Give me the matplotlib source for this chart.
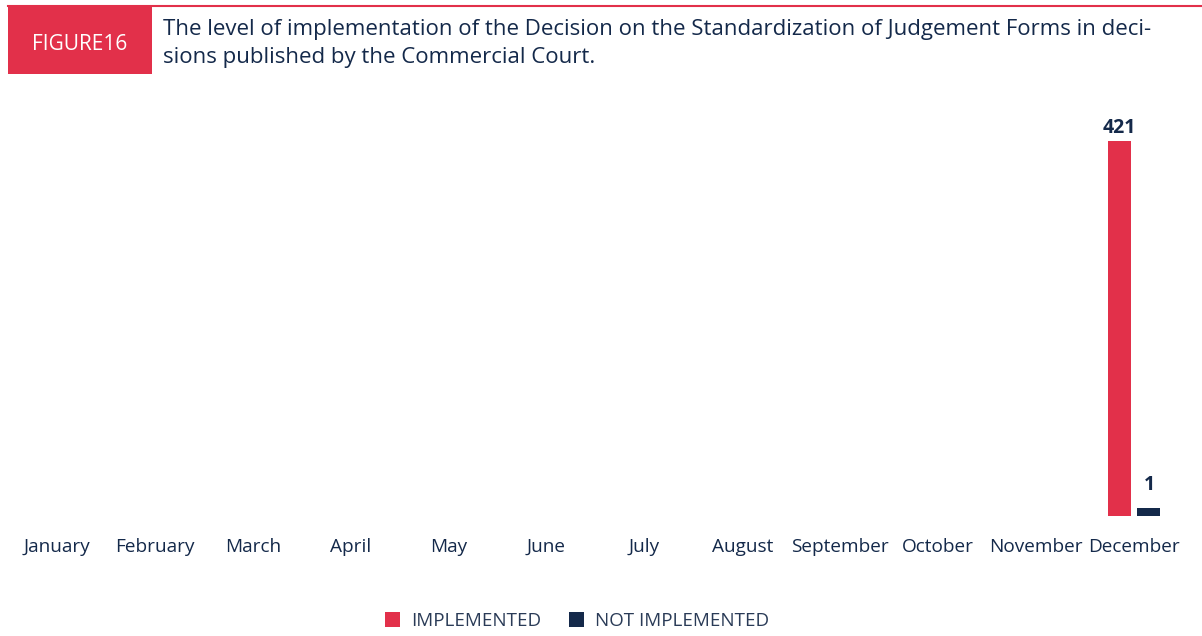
import matplotlib.pyplot as plt
import numpy as np
from matplotlib.patches import Rectangle
from matplotlib.lines import Line2D

plt.rcParams['font.family'] = ['Open Sans', 'DejaVu Sans']

months = ['January', 'February', 'March', 'April', 'May', 'June', 'July',
          'August', 'September', 'October', 'November', 'December']
implemented = [0, 0, 0, 0, 0, 0, 0, 0, 0, 0, 0, 421]
not_implemented = [0, 0, 0, 0, 0, 0, 0, 0, 0, 0, 0, 1]

RED = '#E2304A'
NAVY = '#14294A'

fig = plt.figure(figsize=(12.02, 6.36), dpi=100)

# header: thin red rule, red tag box, title
fig.add_artist(Line2D([8 / 1202, 1], [1 - 6 / 636, 1 - 6 / 636], color=RED, lw=1.5))
fig.add_artist(Rectangle((8 / 1202, 1 - 74 / 636), 144 / 1202, 68 / 636,
                         facecolor=RED, edgecolor='none'))
fig.text(80 / 1202, 1 - 44 / 636, 'FIGURE16', color='white', fontsize=15,
         ha='center', va='center')
fig.text(163 / 1202, 1 - 30 / 636,
         'The level of implementation of the Decision on the Standardization of Judgement Forms in deci-',
         color=NAVY, fontsize=16, va='center')
fig.text(163 / 1202, 1 - 57 / 636, 'sions published by the Commercial Court.',
         color=NAVY, fontsize=16, va='center')

ax = fig.add_axes([10 / 1202, 120 / 636, 1185 / 1202, 416 / 636])
x = np.arange(len(months))
w = 0.235
off = 0.153
ymax = 421 * 416 / 375
min_h = ymax * 8.5 / 416  # smallest visible bar height

imp_draw = [v if v == 0 else max(v, min_h) for v in implemented]
not_draw = [v if v == 0 else max(v, min_h) for v in not_implemented]
b1 = ax.bar(x - off, imp_draw, w, color=RED, label='IMPLEMENTED')
b2 = ax.bar(x + off, not_draw, w, color=NAVY, label='NOT IMPLEMENTED')

for xi, v, h in zip(x, implemented, imp_draw):
    if v:
        ax.annotate(str(v), (xi - off, h), xytext=(0, 2), textcoords='offset points',
                    ha='center', va='bottom', fontsize=14, fontweight='bold', color=NAVY)
for xi, v, h in zip(x, not_implemented, not_draw):
    if v:
        ax.annotate(str(v), (xi + off, h), xytext=(0, 9), textcoords='offset points',
                    ha='center', va='bottom', fontsize=14, fontweight='bold', color=NAVY)

unit = (1134 - 57) / 11
ax.set_xlim((10 - 57) / unit, (1195 - 57) / unit)
ax.set_ylim(0, ymax)
ax.set_xticks(x)
ax.set_xticklabels(months, fontsize=13.7, color=NAVY)
ax.tick_params(axis='x', length=0, pad=16)
ax.set_yticks([])
for s in ax.spines.values():
    s.set_visible(False)

fig.legend(handles=[b1, b2], loc='center', bbox_to_anchor=(577 / 1202, 1 - 621 / 636),
           ncol=2, frameon=False, fontsize=13.5, handlelength=0.8, handleheight=0.8,
           columnspacing=1.5, handletextpad=0.6, labelcolor='#2A3B57')

fig.savefig('out.png', dpi=100)
